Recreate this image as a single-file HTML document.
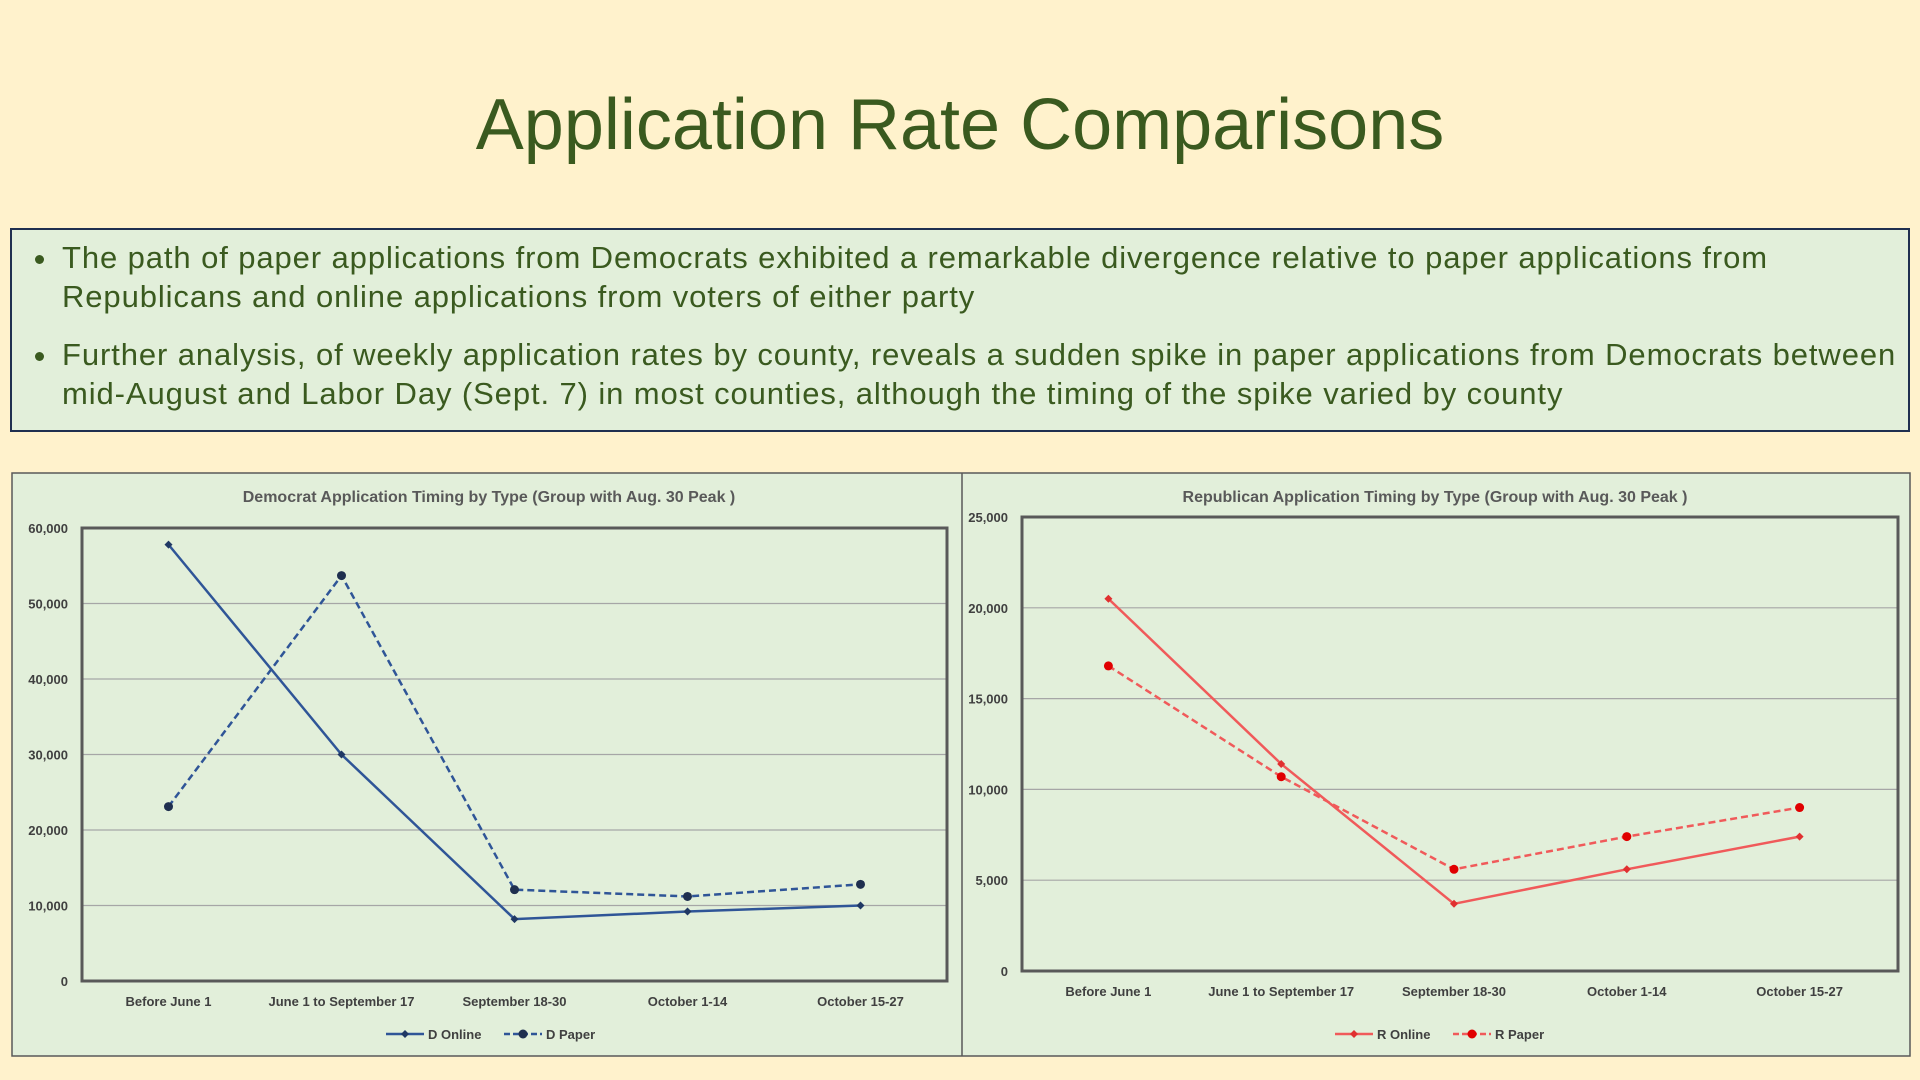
<!DOCTYPE html>
<html><head><meta charset="utf-8"><style>
html,body{margin:0;padding:0;}
body{width:1920px;height:1080px;background:#fff2cc;position:relative;overflow:hidden;font-family:"Liberation Sans",sans-serif;}
#title{position:absolute;left:0;width:1920px;top:84px;text-align:center;font-size:72px;color:#3a5a1f;}
#box{position:absolute;left:10px;top:228px;width:1900px;height:204px;border:2px solid #1f2f4f;background:#e2efda;box-sizing:border-box;}
#box ul{margin:0;padding:8px 10px 0 48px;font-size:31px;color:#3a5a1f;line-height:39px;white-space:nowrap;letter-spacing:0.9px;}
#box li{margin-bottom:19px;padding-left:2px;}
svg{position:absolute;left:0;top:0;}
</style></head><body>
<div id="title">Application Rate Comparisons</div>
<div id="box"><ul>
<li>The path of paper applications from Democrats exhibited a remarkable divergence relative to paper applications from<br>Republicans and online applications from voters of either party</li>
<li>Further analysis, of weekly application rates by county, reveals a sudden spike in paper applications from Democrats between<br>mid-August and Labor Day (Sept. 7) in most counties, although the timing of the spike varied by county</li>
</ul></div>
<svg id="svg" width="1920" height="1080"></svg>
<script>
const categories=["Before June 1","June 1 to September 17","September 18-30","October 1-14","October 15-27"];
const dOnline=[57800,30000,8200,9200,10000];
const dPaper=[23100,53700,12100,11200,12800];
const rOnline=[20500,11400,3700,5600,7400];
const rPaper=[16800,10700,5600,7400,9000];
const dTicks=[0,10000,20000,30000,40000,50000,60000];
const rTicks=[0,5000,10000,15000,20000,25000];
const NS="http://www.w3.org/2000/svg";
const svg=document.getElementById('svg');
function mk(t,a,p){const e=document.createElementNS(NS,t);for(const k in a)e.setAttribute(k,a[k]);(p||svg).appendChild(e);return e;}
const bg=mk('rect',{x:12,y:473,width:1898,height:583,fill:'#e2efda',stroke:'#595959','stroke-width':1.5});


const dv=mk('line',{x1:962,y1:473,x2:962,y2:1056,stroke:'#595959','stroke-width':1.5});


function fmt(v){return v.toLocaleString('en-US');}
function chart(o){
  const g=mk('g',{});
  
  
  const max=o.ticks[o.ticks.length-1];
  const y=v=>o.b-(v/max)*(o.b-o.t);
  const step=(o.xr-o.l)/categories.length;
  const x=i=>o.l+step*(i+0.5);
  const tt=mk('text',{x:o.tx,y:502,'text-anchor':'middle','font-size':16,'font-weight':'bold',fill:'#595959'},g);
  tt.textContent=o.title;
  
  
  o.ticks.forEach(v=>{
    if(v>0&&v<max){const gl=mk('line',{x1:o.l,x2:o.r,y1:y(v),y2:y(v),stroke:'#a6a6a6','stroke-width':1.2},g);
    
    }
    const tl=mk('text',{x:o.l-14,y:y(v)+5,'text-anchor':'end','font-size':13,'font-weight':'bold',fill:'#404040'},g);
    tl.textContent=fmt(v);
    
    
  });
  const pa=mk('rect',{x:o.l,y:o.t,width:o.r-o.l,height:o.b-o.t,fill:'none',stroke:'#595959','stroke-width':3},g);
  
  
  categories.forEach((c,i)=>{
    const t=mk('text',{x:x(i),y:o.b+25,'text-anchor':'middle','font-size':13,'font-weight':'bold',fill:'#404040'},g);
    t.textContent=c;
    
    
  });
  o.series.forEach(s=>{
    const pl=mk('polyline',{points:s.data.map((v,i)=>x(i)+','+y(v)).join(' '),fill:'none',stroke:s.color,'stroke-width':2.5,'stroke-dasharray':s.dash?'7,4':'none'},g);
    
    
    s.data.forEach((v,i)=>{
      let m;
      if(s.dot){m=mk('circle',{cx:x(i),cy:y(v),r:4.5,fill:s.mcolor},g);}
      else{const X=x(i),Y=y(v);m=mk('polygon',{points:`${X},${Y-4} ${X+4},${Y} ${X},${Y+4} ${X-4},${Y}`,fill:s.mcolor},g);}
      
      
    });
  });
  let lx=o.legX;
  o.series.forEach(s=>{
    const ly=1034;
    const ll=mk('line',{x1:lx,x2:lx+38,y1:ly,y2:ly,stroke:s.color,'stroke-width':2.5,'stroke-dasharray':s.dash?'6,3':'none'},g);
    
    
    if(s.dot)mk('circle',{cx:lx+19,cy:ly,r:4.5,fill:s.mcolor},g);
    else mk('polygon',{points:`${lx+19},${ly-4} ${lx+23},${ly} ${lx+19},${ly+4} ${lx+15},${ly}`,fill:s.mcolor},g);
    const lt=mk('text',{x:lx+42,y:ly+5,'font-size':13,'font-weight':'bold',fill:'#404040'},g);
    lt.textContent=s.label;
    
    
    lx+=s.legW;
  });
}
chart({name:'democrat-chart',title:'Democrat Application Timing by Type (Group with Aug. 30 Peak )',l:82,r:947,xr:947,tx:489,t:528,b:981,ticks:dTicks,legX:386,
 series:[{key:'d-online',label:'D Online',data:dOnline,color:'#2f5597',mcolor:'#203864',legW:118},
         {key:'d-paper',label:'D Paper',data:dPaper,color:'#2f5597',mcolor:'#1f2f4f',dash:true,dot:true,legW:110}]});
chart({name:'republican-chart',title:'Republican Application Timing by Type (Group with Aug. 30 Peak )',l:1022,r:1898,xr:1886,tx:1435,t:517,b:971,ticks:rTicks,legX:1335,
 series:[{key:'r-online',label:'R Online',data:rOnline,color:'#f05a5a',mcolor:'#e03030',legW:118},
         {key:'r-paper',label:'R Paper',data:rPaper,color:'#f05a5a',mcolor:'#e00000',dash:true,dot:true,legW:110}]});
</script>
</body></html>
